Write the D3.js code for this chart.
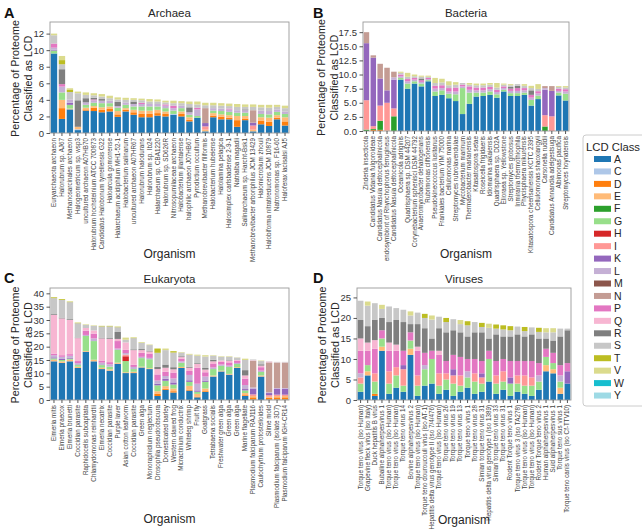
<!DOCTYPE html>
<html><head><meta charset="utf-8">
<script src="https://cdn.jsdelivr.net/npm/d3@7"></script>
<style>
html,body{margin:0;padding:0;background:#fff;}
svg{display:block;font-family:"Liberation Sans",Arial,sans-serif;}
</style></head><body>
<svg id="chart" width="642" height="532"></svg>
<script>
// ---------------- DATA ----------------
const classes = ['A','C','D','E','F','G','H','I','K','L','M','N','P','Q','R','S','T','V','W','Y'];
const classColors = ['#1f77b4','#aec7e8','#ff7f0e','#ffbb78','#2ca02c','#98df8a','#d62728','#ff9896','#9467bd','#c5b0d5','#8c564b','#c49c94','#e377c2','#f7b6d2','#7f7f7f','#c7c7c7','#bcbd22','#dbdb8d','#17becf','#9edae5'];

const archaeaOrganisms = ['Euryarchaeota archaeon','Halorubrum sp. AJ67','Methanosarcinales archaeon','Halogeometricum sp. wsp3','uncultured archaeon A07HB70','Halorubrum hochsteinium ATCC 700873','Candidatus Halobonum tyrrellensis G22','Haloarcula gomorrense','Halarchaeum acidiphilum MH1-52-1','Halobacterium salinarum','uncultured archaeon A07HR67','Halorubrum halodurans','Halorubrum sp. Ib24','Halarchaeum sp. CBA1220','Halorubrum sp. SD626R','Nitrosopumilaceae archaeon','Halobacterium jilantaiense','halophilic archaeon J07HB67','Pyrodictium occultum','Methanobrevibacter filiformis','Halobacterium hubeiense','Halolamina pelagica','Halosimplex carlsbadense 2-9-1','Natrialba magadii','Salinarchaeum sp. Harcht-Bsk1','Methanobrevibacter arboriphilus JCM 13429','Halomicrobium zhouii','Halobiforma nitratireducens JCM 10879','Natronomonas sp. F16-60','Haloferax lacisalsi AJ5'];
const archaeaValues = [
 {A:9.6,G:0.35,L:0.25,P:0.5,K:0.1,S:1.0,V:0.2},
 {A:1.7,D:1.3,E:1.0,G:0.9,L:0.7,P:0.3,R:1.8,S:0.6,T:0.5,V:0.5},
 {A:2.85,E:0.1,G:0.45,L:0.4,K:0.25,S:0.9,T:0.3,V:0.15},
 {A:0.35,C:0.1,E:0.3,R:3.2,S:0.85,V:0.2},
 {A:2.7,D:0.15,E:0.2,G:0.35,L:0.3,R:0.5,S:0.4,V:0.3},
 {A:2.65,D:0.4,E:0.2,G:0.4,L:0.3,P:0.1,R:0.2,S:0.3,V:0.25},
 {A:2.5,D:0.3,E:0.3,G:0.5,L:0.3,R:0.2,S:0.3,V:0.3},
 {A:2.6,D:0.3,E:0.3,G:0.4,L:0.3,S:0.3,V:0.3},
 {A:1.95,D:0.3,E:0.4,G:0.4,L:0.2,R:0.5,S:0.3,V:0.25},
 {A:2.6,D:0.2,E:0.2,G:0.4,L:0.3,S:0.3,V:0.25},
 {A:2.2,D:0.3,E:0.3,G:0.4,L:0.3,R:0.3,S:0.2,V:0.2},
 {A:1.9,D:0.4,E:0.4,G:0.5,L:0.3,P:0.15,S:0.3,V:0.2},
 {A:1.9,D:0.4,E:0.4,G:0.5,L:0.3,S:0.3,V:0.3},
 {A:2.1,D:0.3,E:0.4,G:0.4,L:0.3,S:0.3,V:0.25},
 {A:2.0,D:0.3,E:0.3,G:0.4,L:0.3,P:0.15,S:0.25,V:0.2},
 {A:2.2,C:0.1,G:0.4,L:0.3,P:0.3,S:0.3,V:0.3},
 {A:2.0,D:0.3,E:0.3,G:0.4,L:0.3,S:0.3,V:0.25},
 {A:1.4,D:0.2,E:0.3,G:0.3,L:0.3,R:0.6,S:0.4,V:0.3},
 {A:1.85,G:0.2,L:0.8,P:0.2,S:0.4,V:0.35},
 {A:0.2,E:0.2,I:0.4,K:0.4,N:1.8,S:0.35,V:0.3},
 {A:1.9,D:0.2,E:0.3,G:0.3,L:0.3,S:0.35,V:0.3},
 {A:1.65,D:0.3,E:0.3,G:0.4,L:0.3,S:0.35,V:0.3},
 {A:1.65,D:0.2,E:0.3,G:0.4,L:0.3,P:0.1,S:0.3,V:0.3},
 {A:0.75,D:0.8,E:0.5,G:0.4,L:0.3,S:0.4,V:0.35},
 {A:1.55,D:0.2,E:0.3,G:0.4,L:0.3,R:0.1,S:0.3,V:0.3},
 {A:0.2,E:0.2,I:0.5,K:0.35,N:1.5,S:0.4,V:0.3},
 {A:1.05,D:0.45,E:0.4,G:0.4,L:0.4,S:0.4,V:0.3},
 {A:0.85,D:0.5,E:0.5,G:0.4,L:0.4,S:0.4,V:0.35},
 {A:1.65,D:0.2,E:0.3,G:0.4,L:0.3,S:0.3,V:0.25},
 {A:0.9,D:0.5,E:0.5,G:0.4,L:0.3,S:0.4,V:0.3}
];

const bacteriaOrganisms = ['Zinderia insecticola','Candidatus Vidania fulgoroideae','Candidatus Nasuia deltocephalinicola','endosymbiont of Rhynchophorus ferrugineus','Candidatus Nasuia deltocephalinicola','Oceanicola adriginis','Quadrisphaera sp. DSM 44207','Corynebacterium sphenisci DSM 44792','Anaeromyxobacter dehalogenans','Rubrimonas cliftonensis','Pseudokineococcus lusitanus','Frankiales bacterium YIM 75000','Cellulomonas marina','Streptomyces rubrolavendulae','Mycobacterium marinum','Thermaerobacter marianensis','Kitasatospora setae','Roseicella frigidaeris','Idiomarina sakaiensis','Quadrisphaera sp. DD2A','Elioraea sp. Yellowstone','Streptomyces globosus','Inmirania thermothiophila','Phycisphaera mikurensis','Kitasatospora cheerisanensis KCTC 2395','Cellulomonas shaoxiangyii','Carsonella ruddii','Candidatus Annandia adelgestsuga','Albimonas pacifica','Streptomyces hoynatensis'];
const bacteriaValues = [
 {F:0.25,I:5.2,K:10.1,N:1.95},
 {D:0.2,F:0.15,I:0.5,K:12.15,N:0.4},
 {D:0.2,F:1.6,I:2.7,K:4.8,N:2.6},
 {E:0.1,I:4.9,K:2.2,N:4.0},
 {F:2.6,I:1.4,K:5.1,L:0.4,N:1.0},
 {A:9.1,G:0.3,L:0.3,P:0.3,S:0.3,V:0.2},
 {A:7.5,G:0.9,L:0.4,P:0.4,S:0.4,V:0.7},
 {A:8.4,G:0.4,L:0.3,P:0.3,S:0.3,V:0.3},
 {A:7.9,G:0.5,L:0.3,P:0.3,R:0.3,S:0.3,V:0.2},
 {A:8.8,G:0.2,L:0.2,P:0.2,S:0.2,V:0.2},
 {A:6.2,G:0.8,L:0.5,P:0.5,S:0.5,V:0.9},
 {A:6.4,G:0.8,L:0.4,P:0.5,S:0.5,V:0.65},
 {A:5.8,G:0.8,L:0.4,P:0.6,S:0.5,V:0.7},
 {A:5.3,G:1.2,L:0.5,P:0.7,S:0.5,V:0.45},
 {A:3.0,G:4.6,L:0.3,P:0.3,S:0.3},
 {A:4.8,G:2.0,L:0.5,P:0.6,S:0.3,V:0.3},
 {A:6.1,G:0.7,L:0.4,P:0.5,S:0.4,V:0.3},
 {A:6.2,G:0.6,L:0.4,P:0.5,S:0.4,V:0.3},
 {A:6.4,G:0.6,L:0.4,P:0.4,S:0.4,V:0.3},
 {A:5.9,G:0.6,L:0.4,P:0.4,S:0.4,V:0.8},
 {A:7.0,G:0.3,L:0.3,P:0.3,S:0.3,V:0.2},
 {A:6.2,G:0.5,L:0.4,P:0.4,R:0.3,S:0.3,V:0.2},
 {A:6.2,G:0.5,L:0.4,P:0.5,R:0.4,S:0.3},
 {A:6.4,G:0.4,L:0.4,P:0.4,S:0.4,V:0.3},
 {A:4.5,G:1.0,L:0.4,P:0.5,R:0.8,S:0.4,V:0.4},
 {A:5.65,G:0.6,L:0.4,P:0.4,S:0.4,V:0.85},
 {F:0.8,I:2.0,K:4.5,L:0.3,N:0.35},
 {I:2.6,K:4.5,N:0.85},
 {A:6.3,G:0.5,L:0.3,P:0.4,S:0.3,V:0.15},
 {A:5.4,G:1.2,L:0.4,P:0.4,S:0.3,V:0.25}
];

const eukaryotaOrganisms = ['Eimeria mitis','Eimeria praecox','Eimeria brunetti','Coccidian parasite','Raphidocelis subcapitata','Chlamydomonas reinhardtii','Eimeria necatrix','Coccidian parasite','Purple laver','Asian cotton leafworm','Coccidian parasite','Green alga','Monoraphidium neglectum','Drosophila pseudoobscura','Domesticated barley','Western clawed frog','Micractinium conductrix','Whiteleg shrimp','Fruit fly','Goatgrass','Tetrabaena socialis','Freshwater green alga','Green alga','Green alga','Marine flagellate','Plasmodium falciparum RAJ116','Caulochytrium protostelioides','Slime mold','Plasmodium falciparum (isolate 3D7)','Plasmodium falciparum IGH-CR14'];
const eukaryotaValues = [
 {A:14.5,E:0.6,G:0.5,K:0.4,L:0.8,P:0.6,Q:14.5,R:0.3,S:6.0,T:0.3},
 {A:13.9,E:0.6,G:0.5,K:0.4,L:0.8,P:0.6,Q:13.8,R:0.3,S:6.6,T:0.3},
 {A:14.5,E:0.6,G:0.4,K:0.4,L:0.7,P:0.6,Q:12.8,R:0.3,S:6.4,T:0.2},
 {A:12.0,E:0.5,G:0.6,L:0.7,P:0.8,Q:8.6,R:0.2,S:5.4,T:0.2},
 {A:18.1,E:0.3,G:5.6,L:0.4,P:1.6,Q:1.0,S:1.2,V:0.2},
 {A:14.5,E:0.6,G:7.0,L:1.0,P:1.8,Q:1.2,S:1.7,V:0.2},
 {A:11.6,E:0.5,G:1.0,L:0.9,P:0.8,Q:8.3,R:0.3,S:4.2,T:0.2},
 {A:11.0,E:0.5,G:1.0,L:0.9,P:0.8,Q:8.7,R:0.3,S:4.4,T:0.2},
 {A:13.6,E:0.4,G:4.8,L:0.5,P:2.8,Q:0.8,R:2.6,S:1.8,T:0.2},
 {A:10.1,E:0.3,G:4.2,H:1.8,I:0.6,L:0.6,P:1.2,Q:2.8,S:1.0,V:0.8},
 {A:10.1,E:0.5,G:1.0,L:0.8,P:0.8,Q:5.5,R:0.3,S:4.2,T:0.2},
 {A:12.2,E:0.3,G:3.2,L:0.5,P:1.5,Q:1.0,R:0.4,S:2.3,V:0.3},
 {A:11.6,E:0.3,G:3.4,L:0.5,P:1.6,Q:0.8,R:0.3,S:2.1,V:0.2},
 {A:1.5,D:0.8,E:1.0,G:2.2,K:0.6,L:1.2,P:2.3,Q:2.0,R:0.8,S:5.3,T:1.6},
 {A:3.8,D:0.4,E:1.0,G:2.0,K:0.8,L:1.0,P:1.6,Q:1.5,R:1.2,S:5.4,V:0.6},
 {A:2.8,D:0.5,E:1.0,G:1.5,K:0.8,L:1.5,P:2.2,Q:1.2,R:0.8,S:5.5,T:0.5},
 {A:12.0,E:0.4,G:1.6,L:0.5,P:1.0,Q:0.6,R:0.3,S:1.4,V:0.2},
 {A:3.5,D:0.4,E:1.4,G:1.5,K:0.6,L:2.0,P:1.5,Q:1.2,R:0.4,S:4.5,V:0.3},
 {A:1.0,D:0.3,E:1.0,G:0.8,K:0.5,L:2.5,P:6.0,Q:1.4,R:0.3,S:2.8,V:0.4},
 {A:3.0,D:0.3,E:1.0,G:2.5,K:0.5,L:1.5,P:1.6,Q:1.0,R:0.6,S:4.3,V:0.5},
 {A:8.8,E:0.4,G:2.4,L:0.6,P:1.5,Q:0.8,R:0.6,S:1.5,V:0.2},
 {A:10.7,E:0.3,G:1.8,L:0.5,P:1.0,Q:0.5,S:1.4,V:0.2},
 {A:9.5,E:0.3,G:2.6,L:0.5,P:1.2,Q:0.6,R:0.2,S:1.3,V:0.2},
 {A:12.0,E:0.3,G:1.2,L:0.4,P:0.8,Q:0.3,S:0.9,V:0.1},
 {A:1.5,D:0.3,E:0.8,G:1.0,K:0.5,L:1.5,P:2.4,Q:1.2,R:2.0,S:3.8,V:0.5},
 {A:0.2,D:0.8,E:0.5,I:0.6,K:2.2,L:0.4,N:10.0,Q:0.2,S:0.3},
 {A:8.8,E:0.4,G:1.3,L:0.5,P:1.3,Q:0.6,R:0.5,S:1.2,V:0.2},
 {A:0.2,D:0.6,E:0.4,I:0.6,K:0.8,L:0.3,N:11.2,Q:0.3,S:0.1},
 {A:0.2,D:0.8,E:0.5,I:0.5,K:2.2,L:0.3,N:9.5,Q:0.1,S:0.2},
 {A:0.2,D:0.8,E:0.5,I:0.5,K:2.2,L:0.3,N:9.5,Q:0.1,S:0.2}
];

const virusOrganisms = ['Torque teno virus (iso Human)','Grapevine fleck virus (iso Italy)','Duck hepatitis B virus','Bubaline alphaherpesvirus 1','Torque teno virus (iso Human)','Torque teno virus (iso Human)','Torque teno virus 14','Bovine alphaherpesvirus 2','Torque teno virus (iso Human)','Torque teno douroucouli virus (iso AT-1)','Hepatitis delta virus genotype II (iso 7/4/476)','Torque teno virus (iso Human)','Torque teno virus 26','Torque teno virus 19','Torque teno virus 13','Torque teno virus 1','Torque teno virus 28','Simian torque teno virus 31','Hepatitis delta virus genotype I (iso 1389)','Simian torque teno virus 33','Torque teno virus 31','Rodent Torque teno virus 1','Torque teno virus 3 (iso TA278)','Torque teno virus (iso Human)','Torque teno virus (iso Human)','Rodent Torque teno virus 2','Human alphaherpesvirus 1','Suid alphaherpesvirus 1','Torque teno sus virus 1','Torque teno canis virus (iso Cf-TTV10)'];
const virusValues = [
 {A:2.0,G:2.0,I:1.5,L:1.0,P:5.5,Q:3.0,R:4.5,S:4.7},
 {A:6.0,E:1.0,G:1.5,P:3.5,Q:2.0,R:4.0,S:5.0,V:1.0},
 {A:1.0,D:0.5,G:3.0,I:2.0,P:6.0,Q:2.1,R:5.0,S:4.0},
 {A:12.0,E:1.0,G:2.0,P:2.0,R:3.0,S:2.2,V:1.0},
 {A:1.5,G:2.5,I:3.0,P:5.0,Q:2.0,R:5.0,S:3.8},
 {A:3.0,G:3.0,I:2.0,P:4.0,Q:1.5,R:6.0,S:2.9},
 {A:2.0,G:1.5,I:4.0,K:1.0,P:3.5,R:7.0,S:3.0},
 {A:11.0,E:1.5,G:2.0,P:2.0,R:2.0,S:2.1,V:1.0},
 {A:1.0,G:2.5,I:2.5,P:6.0,Q:1.0,R:5.5,S:2.8},
 {A:3.5,G:4.0,L:1.0,P:3.0,R:6.0,S:2.5,T:1.0},
 {A:4.0,G:6.0,P:2.0,R:3.0,S:4.6,V:1.0},
 {A:1.5,G:2.0,I:3.0,P:4.5,Q:1.0,R:5.5,S:2.8},
 {A:2.5,G:2.5,I:1.5,P:3.0,R:7.0,S:2.5,T:1.0},
 {A:1.0,G:3.0,I:2.0,K:1.5,P:3.5,R:6.0,S:2.7},
 {A:2.0,G:1.5,I:2.5,P:4.5,R:6.0,S:2.0,V:1.0},
 {A:3.0,G:2.5,L:1.5,P:3.0,R:5.5,S:2.7,T:1.0},
 {A:1.5,G:3.0,I:2.0,P:3.5,R:6.5,S:2.5},
 {A:2.0,G:2.0,I:1.5,K:1.0,P:3.0,R:7.0,S:1.3,T:1.0},
 {A:4.5,G:5.5,P:2.0,R:3.0,S:2.6,V:1.0},
 {A:1.5,G:2.5,I:2.0,P:3.5,R:6.5,S:1.4,T:1.0},
 {A:2.5,G:2.0,I:2.5,P:3.0,R:5.5,S:1.7,T:1.0},
 {A:1.0,G:3.0,K:1.5,P:4.0,R:6.0,S:1.5,T:1.0},
 {A:2.0,G:2.0,I:2.0,P:3.5,R:6.5,S:1.9},
 {A:1.5,G:2.0,I:2.5,P:3.5,R:6.0,S:1.3,T:1.0},
 {A:1.0,G:2.5,I:2.0,P:4.0,R:6.5,S:1.7},
 {A:2.5,G:2.0,L:1.5,P:3.0,R:6.0,S:1.6,T:1.0},
 {A:7.0,E:1.5,G:2.0,P:2.0,R:2.5,S:1.5,V:1.0},
 {A:6.5,E:1.0,G:1.5,P:2.5,R:3.0,S:2.0,V:1.0},
 {A:1.5,E:1.5,G:1.5,L:1.5,P:2.5,R:7.0,S:1.9},
 {A:4.0,K:3.0,P:2.0,R:8.0,S:0.4}
];

const archaeaTicks = [0,2,4,6,8,10,12];
const bacteriaTicks = [0,2.5,5,7.5,10,12.5,15,17.5];
const eukaryotaTicks = [0,5,10,15,20,25,30,35,40];
const virusTicks = [0,5,10,15,20,25];

// ---------------- LAYOUT ----------------
const panels = [
 {letter:'A', title:'Archaea', orgs:archaeaOrganisms, vals:archaeaValues, ticks:archaeaTicks, fmt:d3.format('d'), ymax:13.4,
  x0:50, x1:289, y0:22, y1:133, lx:4, ly:18, ylab:[-35,-22], orgY:258},
 {letter:'B', title:'Bacteria', orgs:bacteriaOrganisms, vals:bacteriaValues, ticks:bacteriaTicks, fmt:d3.format('.1f'), ymax:19.3,
  x0:363, x1:569, y0:22, y1:131, lx:313, ly:18, ylab:[-42,-29], orgY:258},
 {letter:'C', title:'Eukaryota', orgs:eukaryotaOrganisms, vals:eukaryotaValues, ticks:eukaryotaTicks, fmt:d3.format('d'), ymax:42.0,
  x0:50, x1:289, y0:288, y1:400, lx:4, ly:283, ylab:[-35,-22], orgY:523},
 {letter:'D', title:'Viruses', orgs:virusOrganisms, vals:virusValues, ticks:virusTicks, fmt:d3.format('d'), ymax:27.3,
  x0:357, x1:571, y0:288, y1:400, lx:313, ly:283, ylab:[-35,-22], orgY:524}
];

const svg = d3.select('#chart');
const color = d3.scaleOrdinal().domain(classes).range(classColors);
const textColor = '#262626';
const font = 'Liberation Sans, Arial, sans-serif';

panels.forEach(p => {
  const g = svg.append('g');
  const x = d3.scaleBand().domain(d3.range(p.orgs.length)).range([p.x0, p.x1]).paddingInner(0.2).paddingOuter(0.1);
  const y = d3.scaleLinear().domain([0, p.ymax]).range([p.y1, p.y0]);
  const stacked = d3.stack().keys(classes).value((d, k) => d[k] || 0)(p.vals);

  g.selectAll('g.layer').data(stacked).join('g').attr('class','layer')
    .attr('fill', d => color(d.key))
    .selectAll('rect').data(d => d.map((v,i) => ({v, i}))).join('rect')
    .attr('x', d => x(d.i))
    .attr('width', x.bandwidth())
    .attr('y', d => y(d.v[1]))
    .attr('height', d => Math.max(0, y(d.v[0]) - y(d.v[1])));

  // frame
  g.append('rect').attr('x', p.x0).attr('y', p.y0).attr('width', p.x1 - p.x0).attr('height', p.y1 - p.y0)
    .attr('fill','none').attr('stroke','#9a9a9a').attr('stroke-width',0.9);

  // y axis
  const ya = g.append('g').attr('transform', `translate(${p.x0},0)`)
    .call(d3.axisLeft(y).tickValues(p.ticks).tickFormat(p.fmt).tickSize(3.5).tickPadding(2.5));
  ya.select('.domain').remove();
  ya.selectAll('line').attr('stroke','#555');
  ya.selectAll('text').attr('font-size', 9.5).attr('fill', '#333').attr('font-family', font);

  // x axis
  const xa = g.append('g').attr('transform', `translate(0,${p.y1})`)
    .call(d3.axisBottom(x).tickFormat(i => p.orgs[i]).tickSize(3).tickPadding(2));
  xa.select('.domain').remove();
  xa.selectAll('line').attr('stroke','#555');
  xa.selectAll('text').attr('font-size', 6.3).attr('fill', '#444')
    .attr('font-family', font)
    .attr('text-anchor','end').attr('dy','0.32em')
    .attr('transform','translate(0,5) rotate(-90)').attr('x',0).attr('y',0);

  // title
  g.append('text').attr('x', (p.x0 + p.x1)/2).attr('y', p.y0 - 5).attr('text-anchor','middle')
    .attr('font-size', 11.5).attr('fill', textColor).text(p.title);
  // panel letter
  g.append('text').attr('x', p.lx).attr('y', p.ly).attr('font-size', 14.5).attr('font-weight','bold')
    .attr('fill','#111').text(p.letter);
  // y label
  const cy = (p.y0 + p.y1)/2 + 1;
  ['Percentage of Proteome','Classified as LCD'].forEach((t, k) => {
    g.append('text').attr('transform', `translate(${p.x0 + p.ylab[k]},${cy}) rotate(-90)`)
      .attr('text-anchor','middle').attr('dy','0.35em').attr('font-size', 10.8).attr('fill', textColor).text(t);
  });
  // x label
  g.append('text').attr('x', (p.x0 + p.x1)/2).attr('y', p.orgY).attr('text-anchor','middle')
    .attr('font-size', 12).attr('fill', textColor).text('Organism');
});

// legend
const lg = svg.append('g');
lg.append('rect').attr('x', 583).attr('y', 135).attr('width', 70).attr('height', 271).attr('rx', 3)
  .attr('fill','#fff').attr('stroke','#ccc').attr('stroke-width', 1);
lg.append('text').attr('x', 586).attr('y', 151).attr('font-size', 11.3)
  .attr('fill', textColor).text('LCD Class');
classes.forEach((c, i) => {
  const yy = 159 + 12.45 * i;
  lg.append('rect').attr('x', 594).attr('y', yy - 3).attr('width', 17).attr('height', 6).attr('fill', color(c));
  lg.append('text').attr('x', 614).attr('y', yy).attr('dy','0.35em').attr('font-size', 10.5).attr('fill', textColor).text(c);
});
</script>
</body></html>
